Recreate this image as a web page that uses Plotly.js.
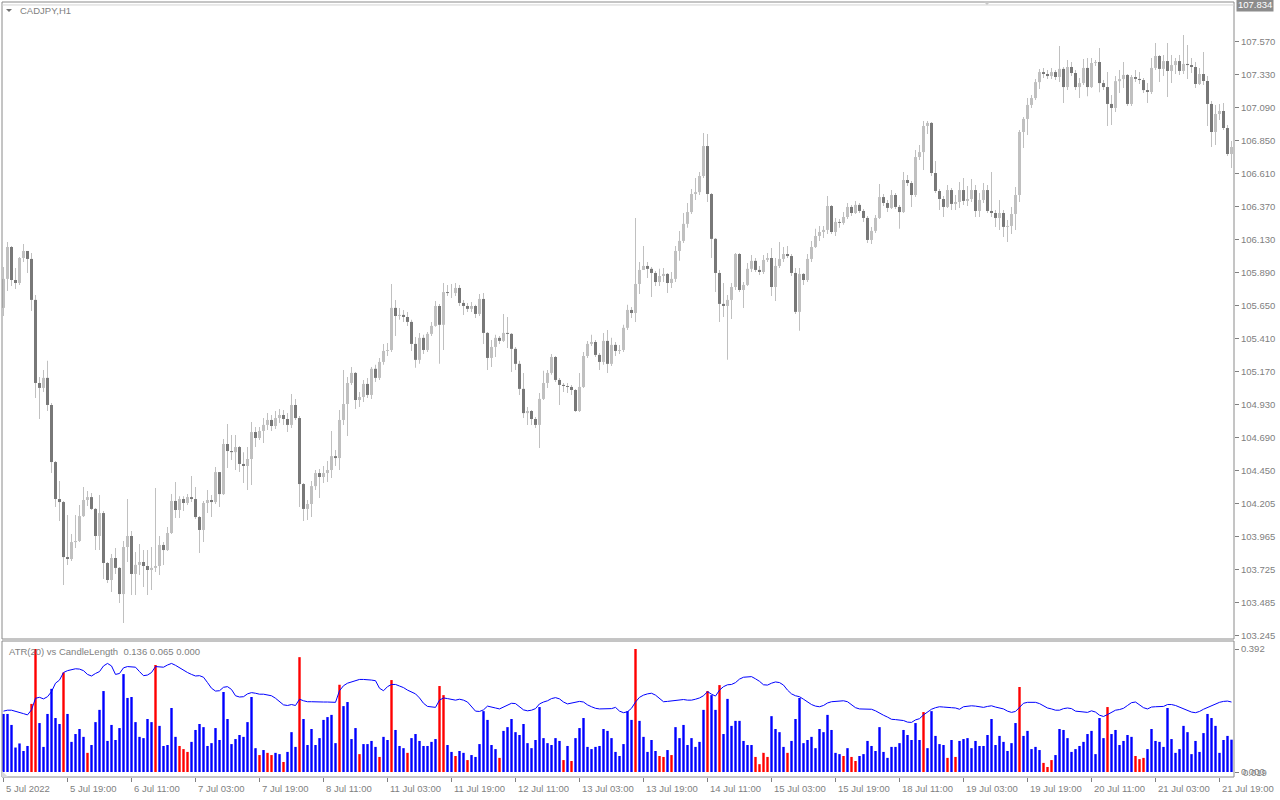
<!DOCTYPE html>
<html><head><meta charset="utf-8">
<script src="https://cdn.plot.ly/plotly-3.0.1.min.js"></script>
<style>html,body{margin:0;padding:0;background:#fff;}#chart{width:1280px;height:800px;}</style>
</head><body><div id="chart"></div>
<script>
// ---- CADJPY H1 candles (one per hour, 5 Jul 2022 03:00 .. 21 Jul 2022 22:00) ----
const firstOpen = 105.631;
const closes = [
105.842,106.074,105.834,105.812,105.994,106.045,105.987,105.689,105.085,105.049,
105.122,104.925,104.510,104.241,104.219,103.819,103.805,103.928,103.936,104.117,
104.234,104.255,104.169,103.972,104.139,103.776,103.652,103.812,103.740,103.550,
103.892,103.972,103.696,103.762,103.783,103.754,103.725,103.740,103.754,103.907,
103.870,103.994,104.227,104.161,104.241,104.212,104.255,104.241,104.110,104.016,
104.212,104.234,104.219,104.437,104.277,104.641,104.590,104.582,104.619,104.496,
104.481,104.532,104.728,104.685,104.736,104.780,104.816,104.772,104.830,104.852,
104.823,104.780,104.925,104.830,104.350,104.169,104.205,104.335,104.430,104.401,
104.430,104.452,104.553,104.539,104.816,104.932,105.085,105.158,104.961,104.983,
105.078,104.998,105.188,105.122,105.238,105.318,105.325,105.631,105.572,105.580,
105.565,105.529,105.369,105.253,105.413,105.325,105.442,105.500,105.645,105.508,
105.746,105.739,105.739,105.776,105.667,105.645,105.624,105.645,105.587,105.696,
105.449,105.267,105.347,105.413,105.391,105.449,105.442,105.333,105.224,105.042,
104.866,104.881,104.823,104.780,104.969,105.085,105.158,105.274,105.107,105.071,
105.063,105.056,105.034,104.881,105.056,105.281,105.369,105.383,105.289,105.238,
105.391,105.224,105.362,105.318,105.325,105.486,105.616,105.594,105.805,105.907,
105.936,105.915,105.885,105.819,105.863,105.878,105.812,105.842,106.045,106.118,
106.242,106.328,106.459,106.473,106.590,106.808,106.459,106.133,105.885,105.660,
105.645,105.689,105.783,106.023,105.761,105.798,105.915,105.973,105.907,105.892,
105.980,105.994,105.783,105.936,105.987,106.023,106.008,105.885,105.602,105.878,
105.834,105.987,106.074,106.154,106.183,106.198,106.372,106.183,106.256,106.249,
106.292,106.365,106.321,106.380,106.336,106.285,106.125,106.191,106.285,106.437,
106.394,106.358,106.452,106.365,106.328,106.561,106.539,106.452,106.728,106.764,
106.954,106.976,106.612,106.481,106.423,106.365,106.488,106.387,106.401,106.488,
106.409,106.423,106.488,106.336,106.416,106.488,106.336,106.321,106.285,106.321,
106.220,106.227,106.314,106.452,106.910,107.005,107.107,107.157,107.273,107.346,
107.332,107.317,107.346,107.310,107.369,107.237,107.383,107.339,107.237,107.266,
107.376,107.237,107.412,107.419,107.266,107.237,107.114,107.085,107.280,107.295,
107.325,107.114,107.310,107.296,107.288,107.215,107.201,107.376,107.463,107.369,
107.426,107.354,107.397,107.426,107.354,107.405,107.397,107.383,107.259,107.332,
107.281,107.114,106.910,107.041,107.063,106.939,106.750,106.801];
const highs = [
105.929,106.110,106.081,105.922,106.001,106.096,106.045,106.030,105.725,105.129,
105.180,105.246,104.939,104.518,104.372,104.227,104.125,103.987,104.125,104.198,
104.328,104.299,104.284,104.176,104.270,104.154,103.783,103.841,103.885,103.747,
103.936,104.241,104.009,103.855,103.914,103.870,103.870,103.892,104.321,103.972,
103.928,104.038,104.277,104.364,104.262,104.262,104.277,104.408,104.328,104.117,
104.227,104.306,104.270,104.474,104.437,104.678,104.787,104.707,104.707,104.626,
104.582,104.619,104.801,104.765,104.765,104.830,104.866,104.852,104.881,104.896,
104.888,104.866,105.005,104.969,104.844,104.357,104.234,104.372,104.452,104.460,
104.481,104.518,104.736,104.597,104.888,105.180,105.129,105.202,105.165,105.019,
105.107,105.122,105.202,105.217,105.267,105.369,105.376,105.805,105.689,105.631,
105.616,105.602,105.544,105.420,105.449,105.435,105.456,105.529,105.682,105.660,
105.812,105.798,105.805,105.812,105.798,105.689,105.667,105.674,105.653,105.732,
105.739,105.456,105.398,105.435,105.427,105.587,105.565,105.449,105.347,105.246,
105.158,104.910,104.888,104.837,105.012,105.173,105.180,105.296,105.281,105.122,
105.085,105.085,105.071,105.042,105.158,105.310,105.391,105.435,105.398,105.303,
105.449,105.471,105.413,105.383,105.362,105.508,105.653,105.638,106.285,105.965,
106.081,105.965,105.929,105.900,105.915,105.922,105.885,105.892,106.081,106.191,
106.321,106.394,106.496,106.576,106.619,106.903,106.896,106.466,106.140,105.907,
105.812,105.725,105.812,106.030,106.030,105.819,105.958,106.016,105.994,105.936,
106.016,106.030,106.067,105.994,106.110,106.074,106.081,106.023,105.922,105.922,
105.885,106.023,106.118,106.206,106.227,106.227,106.444,106.380,106.285,106.278,
106.328,106.394,106.380,106.409,106.394,106.351,106.299,106.220,106.307,106.532,
106.459,106.416,106.488,106.466,106.380,106.619,106.598,106.554,106.779,106.816,
106.991,106.991,106.983,106.700,106.496,106.444,106.525,106.503,106.452,106.546,
106.576,106.517,106.569,106.525,106.466,106.539,106.525,106.619,106.343,106.416,
106.343,106.271,106.365,106.510,106.925,107.019,107.157,107.179,107.296,107.369,
107.376,107.361,107.376,107.361,107.535,107.383,107.434,107.419,107.361,107.303,
107.441,107.448,107.448,107.434,107.521,107.288,107.346,107.179,107.317,107.361,
107.419,107.332,107.325,107.361,107.346,107.303,107.266,107.448,107.557,107.470,
107.470,107.557,107.470,107.448,107.470,107.615,107.543,107.448,107.419,107.376,
107.492,107.317,107.136,107.107,107.114,107.121,106.961,106.845];
const lows = [
105.572,105.754,105.790,105.769,105.798,105.965,105.885,105.609,104.976,104.823,
105.019,104.881,104.430,104.183,104.082,103.616,103.762,103.791,103.885,103.928,
104.110,104.190,104.161,103.870,103.870,103.660,103.630,103.564,103.696,103.485,
103.340,103.783,103.543,103.543,103.689,103.601,103.543,103.579,103.710,103.689,
103.762,103.863,103.987,104.103,104.103,104.154,104.198,104.219,104.096,103.848,
103.928,104.139,104.110,104.205,104.183,104.270,104.467,104.525,104.452,104.437,
104.357,104.306,104.343,104.619,104.670,104.648,104.743,104.736,104.751,104.794,
104.780,104.728,104.758,104.816,104.183,104.082,104.089,104.110,104.306,104.248,
104.357,104.364,104.394,104.481,104.452,104.780,104.699,105.071,104.896,104.910,
104.946,104.976,104.969,105.092,105.107,105.217,105.281,105.310,105.427,105.544,
105.529,105.500,105.318,105.195,105.224,105.296,105.310,105.427,105.493,105.224,
105.325,105.717,105.703,105.717,105.645,105.580,105.602,105.602,105.558,105.572,
105.369,105.180,105.202,105.274,105.369,105.383,105.340,105.165,105.180,104.998,
104.830,104.780,104.780,104.758,104.612,104.961,105.049,105.144,105.092,104.925,
105.019,105.012,104.998,104.873,104.873,105.049,105.267,105.354,105.274,105.180,
105.217,105.158,105.209,105.281,105.296,105.310,105.471,105.558,105.529,105.732,
105.907,105.849,105.710,105.790,105.790,105.819,105.739,105.776,105.819,105.973,
106.103,106.213,106.314,106.416,106.452,106.576,106.401,105.994,105.746,105.529,
105.565,105.253,105.551,105.761,105.746,105.631,105.790,105.892,105.892,105.871,
105.878,105.965,105.717,105.682,105.922,105.965,105.994,105.863,105.587,105.464,
105.798,105.819,105.965,106.067,106.118,106.140,106.169,106.169,106.154,106.213,
106.235,106.278,106.299,106.314,106.321,106.256,106.103,106.096,106.176,106.278,
106.372,106.328,106.351,106.351,106.206,106.321,106.517,106.365,106.437,106.707,
106.634,106.896,106.590,106.466,106.343,106.292,106.358,106.343,106.343,106.358,
106.380,106.372,106.401,106.292,106.292,106.394,106.321,106.292,106.220,106.198,
106.147,106.110,106.169,106.198,106.401,106.794,106.889,107.085,107.143,107.223,
107.303,107.296,107.296,107.288,107.273,107.121,107.215,107.317,107.215,107.157,
107.252,107.171,107.230,107.390,107.200,107.215,106.954,106.961,107.056,107.194,
107.230,107.099,107.099,107.273,107.259,107.194,107.121,107.186,107.361,107.273,
107.317,107.165,107.266,107.332,107.325,107.332,107.296,107.339,107.230,107.252,
107.252,106.954,106.801,106.816,106.998,106.925,106.736,106.649];

// ---- ATR(20) vs CandleLength sub-window ----
const candleLength = [
0.185,0.185,0.150,0.078,0.091,0.067,0.083,0.217,0.392,0.156,
0.080,0.185,0.265,0.172,0.153,0.317,0.185,0.096,0.121,0.137,
0.112,0.061,0.086,0.159,0.198,0.258,0.099,0.150,0.102,0.140,
0.312,0.236,0.239,0.159,0.112,0.108,0.169,0.159,0.341,0.147,
0.083,0.086,0.204,0.112,0.083,0.073,0.064,0.096,0.134,0.153,
0.143,0.083,0.092,0.140,0.102,0.255,0.169,0.089,0.105,0.118,
0.112,0.159,0.239,0.076,0.054,0.070,0.061,0.054,0.061,0.057,
0.032,0.064,0.127,0.080,0.366,0.169,0.086,0.137,0.086,0.108,
0.166,0.175,0.182,0.092,0.278,0.210,0.223,0.105,0.140,0.057,
0.089,0.089,0.099,0.080,0.048,0.112,0.102,0.293,0.134,0.083,
0.076,0.061,0.108,0.121,0.099,0.083,0.083,0.096,0.105,0.274,
0.245,0.086,0.064,0.051,0.067,0.061,0.038,0.054,0.048,0.089,
0.194,0.166,0.086,0.073,0.045,0.131,0.143,0.169,0.127,0.118,
0.153,0.092,0.076,0.102,0.207,0.108,0.092,0.086,0.108,0.099,
0.038,0.083,0.035,0.108,0.140,0.172,0.080,0.073,0.080,0.083,
0.137,0.131,0.108,0.064,0.051,0.089,0.194,0.166,0.392,0.163,
0.112,0.064,0.102,0.067,0.051,0.048,0.070,0.054,0.143,0.108,
0.150,0.086,0.108,0.080,0.096,0.198,0.258,0.245,0.198,0.277,
0.121,0.233,0.147,0.163,0.163,0.099,0.086,0.086,0.048,0.025,
0.061,0.048,0.178,0.137,0.127,0.080,0.061,0.099,0.169,0.236,
0.092,0.102,0.112,0.076,0.137,0.127,0.182,0.134,0.061,0.057,
0.051,0.076,0.048,0.035,0.051,0.057,0.099,0.083,0.067,0.143,
0.064,0.045,0.080,0.080,0.092,0.134,0.118,0.102,0.156,0.102,
0.191,0.076,0.194,0.115,0.089,0.086,0.045,0.102,0.048,0.099,
0.105,0.108,0.076,0.099,0.083,0.083,0.118,0.169,0.086,0.115,
0.096,0.067,0.092,0.156,0.271,0.115,0.131,0.073,0.080,0.070,
0.029,0.016,0.038,0.054,0.137,0.134,0.108,0.064,0.073,0.083,
0.096,0.121,0.131,0.057,0.172,0.108,0.207,0.121,0.134,0.086,
0.099,0.118,0.112,0.051,0.041,0.045,0.073,0.137,0.099,0.096,
0.080,0.204,0.105,0.061,0.073,0.147,0.127,0.057,0.099,0.064,
0.124,0.185,0.172,0.147,0.061,0.102,0.115,0.103];
const atrLine = [
0.194,0.197,0.197,0.194,0.191,0.186,0.182,0.198,0.235,0.238,
0.233,0.240,0.256,0.283,0.293,0.317,0.323,0.325,0.329,0.328,
0.323,0.311,0.306,0.314,0.320,0.338,0.346,0.338,0.311,0.314,
0.332,0.336,0.335,0.334,0.320,0.307,0.309,0.317,0.336,0.334,
0.334,0.341,0.346,0.340,0.332,0.325,0.317,0.311,0.306,0.307,
0.302,0.285,0.267,0.258,0.259,0.270,0.272,0.263,0.243,0.239,
0.240,0.249,0.253,0.251,0.248,0.248,0.246,0.243,0.235,0.225,
0.214,0.212,0.215,0.212,0.232,0.227,0.224,0.224,0.223,0.223,
0.223,0.223,0.223,0.222,0.259,0.275,0.283,0.287,0.292,0.295,
0.295,0.295,0.293,0.291,0.267,0.259,0.272,0.279,0.279,0.274,
0.269,0.261,0.254,0.249,0.236,0.219,0.209,0.207,0.206,0.229,
0.236,0.234,0.232,0.229,0.232,0.229,0.223,0.208,0.194,0.193,
0.198,0.210,0.208,0.204,0.201,0.207,0.215,0.219,0.218,0.208,
0.198,0.195,0.197,0.202,0.217,0.223,0.227,0.234,0.237,0.233,
0.223,0.217,0.220,0.222,0.225,0.223,0.214,0.208,0.203,0.201,
0.201,0.201,0.202,0.206,0.194,0.189,0.192,0.203,0.223,0.238,
0.245,0.249,0.251,0.245,0.233,0.224,0.225,0.227,0.229,0.231,
0.231,0.229,0.229,0.232,0.236,0.243,0.256,0.248,0.242,0.261,
0.272,0.278,0.279,0.285,0.296,0.302,0.304,0.304,0.297,0.289,
0.278,0.277,0.283,0.287,0.285,0.277,0.261,0.249,0.243,0.240,
0.232,0.222,0.215,0.210,0.208,0.212,0.220,0.224,0.225,0.227,
0.227,0.224,0.214,0.205,0.201,0.201,0.201,0.200,0.195,0.187,
0.181,0.175,0.168,0.167,0.166,0.164,0.159,0.158,0.166,0.170,
0.182,0.190,0.200,0.205,0.208,0.207,0.205,0.205,0.204,0.200,
0.208,0.210,0.211,0.210,0.208,0.206,0.209,0.211,0.207,0.205,
0.201,0.194,0.190,0.193,0.205,0.219,0.222,0.223,0.222,0.218,
0.210,0.204,0.201,0.197,0.197,0.202,0.204,0.202,0.194,0.192,
0.191,0.190,0.195,0.191,0.181,0.177,0.183,0.191,0.197,0.199,
0.203,0.212,0.221,0.223,0.215,0.205,0.201,0.207,0.208,0.208,
0.209,0.215,0.215,0.212,0.207,0.202,0.195,0.191,0.189,0.193,
0.200,0.206,0.210,0.217,0.222,0.225,0.226,0.223];
const redBars = [7,8,15,21,38,44,45,46,64,66,67,70,74,84,89,94,97,101,109,110,113,116,124,140,142,158,
  164,165,167,176,179,188,189,190,191,196,210,212,213,230,236,238,254,260,261,262,276,283,284,285];

// ---- axis labels ----
const timeLabels = ['5 Jul 2022','5 Jul 19:00','6 Jul 11:00','7 Jul 03:00','7 Jul 19:00','8 Jul 11:00',
  '11 Jul 03:00','11 Jul 19:00','12 Jul 11:00','13 Jul 03:00','13 Jul 19:00','14 Jul 11:00','15 Jul 03:00',
  '15 Jul 19:00','18 Jul 11:00','19 Jul 03:00','19 Jul 19:00','20 Jul 11:00','21 Jul 03:00','21 Jul 19:00'];
const timeLabelStep = 16;
const priceTicks = [107.570,107.330,107.090,106.850,106.610,106.370,106.130,105.890,105.650,105.410,
  105.170,104.930,104.690,104.450,104.205,103.965,103.725,103.485,103.245];
const priceMarker = 107.834;
const atrTicks = [0.392, 0.000];
const atrMinLabel = '0.019';
const symbolTitle = 'CADJPY,H1';
const indicatorTitle = 'ATR(20) vs CandleLength&nbsp; 0.136 0.065 0.000';

// ---- build traces ----
const idx = closes.map((_, i) => i);
const opens = [firstOpen].concat(closes.slice(0, -1));
const bodyBase = idx.map(i => Math.min(opens[i], closes[i]));
const bodyLen = idx.map(i => Math.abs(closes[i] - opens[i]));
const bodyColor = idx.map(i => closes[i] < opens[i] ? '#787878' : '#c0c0c0');
const wickLen = idx.map(i => highs[i] - lows[i]);
const redSet = new Set(redBars);
const lenColor = idx.map(i => redSet.has(i) ? '#ff0000' : '#0000ff');

const FONT = 'Liberation Sans, Arial, sans-serif';
const GRAY = '#808080';

const traces = [
  {type:'bar', x: idx, base: lows, y: wickLen, width: 0.25, marker:{color:'#c0c0c0'}, xaxis:'x', yaxis:'y', hoverinfo:'skip'},
  {type:'bar', x: idx, base: bodyBase, y: bodyLen, width: 0.75, marker:{color: bodyColor}, xaxis:'x', yaxis:'y', hoverinfo:'skip'},
  {type:'bar', x: idx, y: candleLength, width: 0.6, marker:{color: lenColor}, xaxis:'x', yaxis:'y2', hoverinfo:'skip'},
  {type:'scatter', mode:'lines', x: idx, y: atrLine, line:{color:'#0000ff', width:1}, xaxis:'x', yaxis:'y2', hoverinfo:'skip'}
];

const W = 1280, H = 800, ML = 2, MR = 46, MT = 2, MB = 23;
const PW = W - ML - MR, PH = H - MT - MB;
const mainBottomPx = 639, subTopPx = 641;
const mainDomain = [(H - MB - mainBottomPx) / PH, 1];
const subDomain = [0, (H - MB - subTopPx) / PH];

const labelIdx = timeLabels.map((_, k) => k * timeLabelStep);

const annotations = timeLabels.map((t, k) => ({
  x: labelIdx[k], xref:'x', y: -12 / PH, yref:'paper', text: t, showarrow:false,
  xanchor:'left', yanchor:'middle', xshift: 0, font:{family:FONT, size:9.5, color:GRAY}
}));
annotations.push({x:0, xref:'paper', y:1, yref:'paper', text:symbolTitle, showarrow:false,
  xanchor:'left', yanchor:'middle', xshift:16, yshift:-8, font:{family:FONT, size:9.5, color:GRAY}});
annotations.push({x:0, xref:'paper', y:subDomain[1], yref:'paper', text:indicatorTitle, showarrow:false,
  xanchor:'left', yanchor:'middle', xshift:5, yshift:-10, font:{family:FONT, size:9.5, color:GRAY}});
annotations.push({x:1, xref:'paper', y:priceMarker, yref:'y', text:priceMarker.toFixed(3), showarrow:false,
  xanchor:'left', yanchor:'middle', xshift:2, bgcolor:'#8c8c8c', borderpad:1,
  font:{family:FONT, size:9.5, color:'#ffffff'}});
annotations.push({x:1, xref:'paper', y:0, yref:'y2', text:atrMinLabel, showarrow:false,
  xanchor:'left', yanchor:'middle', xshift:7, font:{family:FONT, size:9.5, color:GRAY}});

const px2x = p => (p - ML) / PW;
const px2y = p => (H - MB - p) / PH;

const shapes = [
  {type:'rect', xref:'paper', yref:'paper', x0:0, x1:1, y0:mainDomain[0], y1:1, line:{color:'#8a8a8a', width:1}},
  {type:'rect', xref:'paper', yref:'paper', x0:0, x1:1, y0:0, y1:subDomain[1], line:{color:'#8a8a8a', width:1}},
  {type:'line', xref:'paper', yref:'y', x0:0, x1:1, y0:priceMarker, y1:priceMarker, line:{color:'#d4d4d4', width:1}},
  {type:'path', xref:'paper', yref:'paper',
   path:`M ${px2x(983)} ${px2y(1)} L ${px2x(991)} ${px2y(1)} L ${px2x(987)} ${px2y(5)} Z`,
   fillcolor:'#c8c8c8', line:{width:0}},
  {type:'path', xref:'paper', yref:'paper',
   path:`M ${px2x(6)} ${px2y(9)} L ${px2x(12)} ${px2y(9)} L ${px2x(9)} ${px2y(12)} Z`,
   fillcolor:'#707070', line:{width:0}},
  {type:'path', xref:'paper', yref:'paper',
   path:`M ${px2x(2)} ${px2y(771)} L ${px2x(2)} ${px2y(777)} L ${px2x(8)} ${px2y(777)} Z`,
   fillcolor:'#d8d8d8', line:{width:0}}
];

const tickFont = {family:FONT, size:9.5, color:GRAY};
const layout = {
  width: W, height: H,
  margin: {l:ML, r:MR, t:MT, b:MB, pad:0},
  paper_bgcolor:'#ffffff', plot_bgcolor:'#ffffff',
  showlegend:false, barmode:'overlay', hovermode:false,
  xaxis: {range:[-0.375, 307.625], anchor:'y2', showgrid:false, zeroline:false, showline:false,
    ticks:'outside', ticklen:4, tickwidth:1, tickcolor:GRAY, tickvals: labelIdx, showticklabels:false, fixedrange:true},
  yaxis: {domain: mainDomain, range:[103.2231, 107.8555], side:'right', anchor:'x',
    showgrid:false, zeroline:false, showline:false,
    ticks:'outside', ticklen:4, tickwidth:1, tickcolor:GRAY,
    tickvals: priceTicks, ticktext: priceTicks.map(v => v.toFixed(3)), tickfont: tickFont, fixedrange:true},
  yaxis2: {domain: subDomain, range:[-0.01593, 0.4175], side:'right', anchor:'x',
    showgrid:false, zeroline:false, showline:false,
    ticks:'outside', ticklen:4, tickwidth:1, tickcolor:GRAY,
    tickvals: atrTicks, ticktext: atrTicks.map(v => v.toFixed(3)), tickfont: tickFont, fixedrange:true},
  annotations: annotations,
  shapes: shapes
};

Plotly.newPlot('chart', traces, layout, {staticPlot:true, displayModeBar:false});
</script>
</body></html>
